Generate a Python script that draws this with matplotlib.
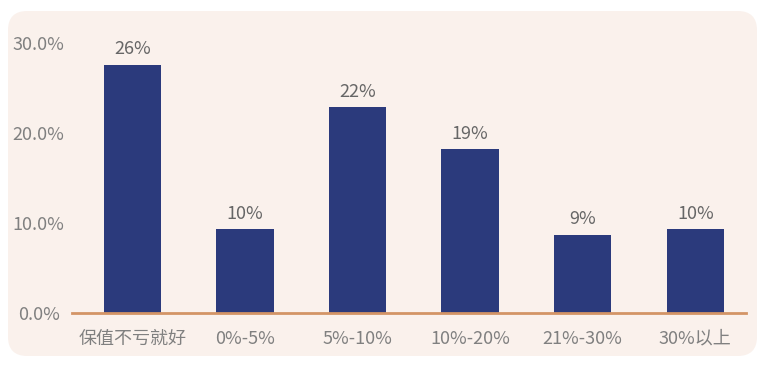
import matplotlib
matplotlib.use('Agg')
import matplotlib.pyplot as plt
from matplotlib.patches import FancyBboxPatch
from matplotlib.ticker import FuncFormatter

plt.rcParams['font.family'] = ['Noto Sans CJK SC', 'DejaVu Sans']

# data
categories = ['保值不亏就好', '0%-5%', '5%-10%', '10%-20%', '21%-30%', '30%以上']
values = [0.276, 0.093, 0.229, 0.182, 0.087, 0.093]
value_labels = ['26%', '10%', '22%', '19%', '9%', '10%']

W, H = 770, 367
fig = plt.figure(figsize=(W / 100, H / 100), dpi=100)
fig.patch.set_facecolor('white')

# rounded panel behind the chart
panel = FancyBboxPatch((8 / W, 11 / H), 749 / W, 345 / H,
                       boxstyle='round,pad=0,rounding_size=0.025',
                       transform=fig.transFigure, facecolor='#FAF1EC',
                       edgecolor='none', zorder=-5, mutation_aspect=W / H)
fig.patches.append(panel)

ax = fig.add_axes([72 / W, (H - 313) / H, (746 - 72) / W, 270 / H])
ax.set_facecolor('none')
ax.set_zorder(2)

x = range(len(categories))
bars = ax.bar(x, values, width=0.51, color='#2B3A7C', zorder=2)

for b, lab in zip(bars, value_labels):
    ax.text(b.get_x() + b.get_width() / 2, b.get_height() + 0.007, lab,
            ha='center', va='bottom', fontsize=13, color='#666666')

ax.set_xlim(-0.535, 5.45)
ax.set_ylim(0, 0.30)
ax.set_yticks([0, 0.1, 0.2, 0.3])
ax.yaxis.set_major_formatter(FuncFormatter(lambda v, p: f'{v * 100:.1f}%'))
ax.set_xticks(list(x))
ax.set_xticklabels(categories)

for s in ['top', 'right', 'left']:
    ax.spines[s].set_visible(False)
ax.spines['bottom'].set_color('#D39466')
ax.spines['bottom'].set_linewidth(2)
ax.spines['bottom'].set_zorder(3)

ax.tick_params(axis='both', length=0, labelsize=13, colors='#808080')
ax.tick_params(axis='x', pad=12)
ax.tick_params(axis='y', pad=24)
for t in ax.get_yticklabels():
    t.set_horizontalalignment('center')

fig.savefig('out.png', dpi=100)
